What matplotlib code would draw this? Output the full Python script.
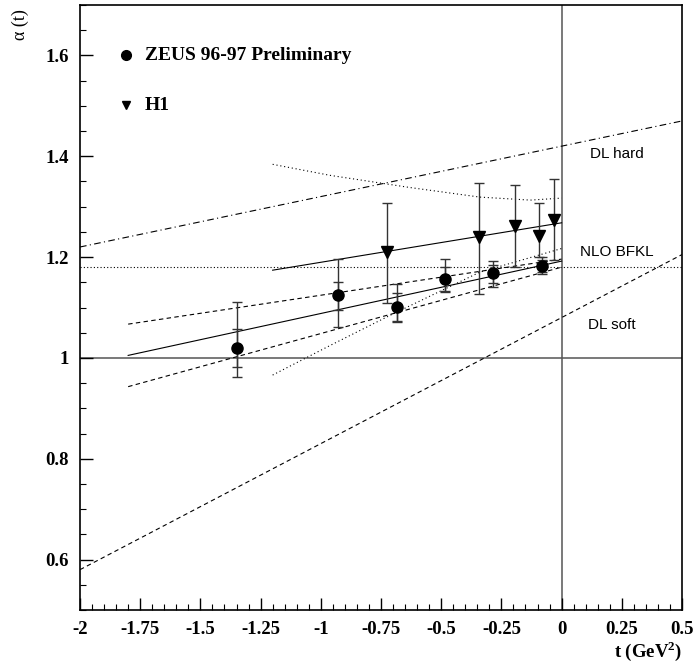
import matplotlib
matplotlib.use("Agg")
import matplotlib.pyplot as plt
from matplotlib.ticker import MultipleLocator, FixedFormatter, FixedLocator

# ZEUS 96-97 preliminary points (inner = stat, outer = total)
zeus_t = [-1.35, -0.93, -0.685, -0.484, -0.284, -0.083]
zeus_a = [1.020, 1.125, 1.101, 1.156, 1.168, 1.183]
zeus_stat_hi = [1.058, 1.151, 1.128, 1.180, 1.184, 1.194]
zeus_stat_lo = [0.982, 1.096, 1.073, 1.132, 1.149, 1.171]
zeus_tot_hi = [1.110, 1.196, 1.147, 1.197, 1.193, 1.201]
zeus_tot_lo = [0.963, 1.062, 1.071, 1.130, 1.141, 1.166]

# H1 points
h1_t = [-0.724, -0.343, -0.194, -0.093, -0.032]
h1_a = [1.211, 1.240, 1.261, 1.242, 1.273]
h1_hi = [1.308, 1.346, 1.343, 1.308, 1.354]
h1_lo = [1.108, 1.127, 1.181, 1.200, 1.194]

# model / fit lines
dl_hard_t = [-2.0, 0.5]
dl_hard_a = [1.22, 1.47]
dl_soft_t = [-2.0, 0.5]
dl_soft_a = [0.58, 1.205]
bfkl_t = [-2.0, 0.5]
bfkl_a = [1.18, 1.18]

zeus_fit_t = [-1.8, 0.0]
zeus_fit_a = [1.005, 1.192]
zeus_band_hi = [1.067, 1.196]
zeus_band_lo = [0.943, 1.180]

h1_fit_t = [-1.2, 0.0]
h1_fit_a = [1.174, 1.268]
h1_band_hi_t = [-1.2, -0.96, -0.63, -0.34, -0.13, 0.0]
h1_band_hi_a = [1.384, 1.362, 1.338, 1.319, 1.313, 1.317]
h1_band_lo_t = [-1.2, -0.96, -0.71, -0.34, 0.0]
h1_band_lo_a = [0.966, 1.025, 1.085, 1.170, 1.217]

xticks = [-2, -1.75, -1.5, -1.25, -1, -0.75, -0.5, -0.25, 0, 0.25, 0.5]
xlabels = ["-2", "-1.75", "-1.5", "-1.25", "-1", "-0.75", "-0.5", "-0.25", "0", "0.25", "0.5"]
yticks = [0.6, 0.8, 1.0, 1.2, 1.4, 1.6]
ylabels = ["0.6", "0.8", "1", "1.2", "1.4", "1.6"]

serif = "Liberation Serif"
sans = "Liberation Sans"
plt.rcParams["mathtext.fontset"] = "custom"
plt.rcParams["mathtext.bf"] = "Liberation Serif:bold"
plt.rcParams["mathtext.rm"] = "Liberation Serif"

fig = plt.figure(figsize=(6.95, 6.69), dpi=100)
ax = fig.add_axes([80 / 695, 59 / 669, 602 / 695, 605 / 669])
ax.set_xlim(-2, 0.5)
ax.set_ylim(0.5, 1.7)

lw = 0.8
ax.axhline(1.0, color="#555555", lw=1.1, zorder=1)
ax.axvline(0.0, color="#555555", lw=1.1, zorder=1)

ax.plot(dl_hard_t, dl_hard_a, color="black", lw=lw, dashes=(6, 3, 1, 3))
ax.plot(dl_soft_t, dl_soft_a, color="black", lw=lw, dashes=(4, 3))
ax.plot(bfkl_t, bfkl_a, color="black", lw=lw, dashes=(1, 2))

ax.plot(zeus_fit_t, zeus_fit_a, color="black", lw=lw)
ax.plot(zeus_fit_t, zeus_band_hi, color="black", lw=lw, dashes=(4, 3))
ax.plot(zeus_fit_t, zeus_band_lo, color="black", lw=lw, dashes=(4, 3))

ax.plot(h1_fit_t, h1_fit_a, color="black", lw=lw)
ax.plot(h1_band_hi_t, h1_band_hi_a, color="black", lw=lw, dashes=(1, 2.5))
ax.plot(h1_band_lo_t, h1_band_lo_a, color="black", lw=lw, dashes=(1, 2.5))

# error bars
tot_err = [[a - l for a, l in zip(zeus_a, zeus_tot_lo)], [h - a for a, h in zip(zeus_a, zeus_tot_hi)]]
stat_err = [[a - l for a, l in zip(zeus_a, zeus_stat_lo)], [h - a for a, h in zip(zeus_a, zeus_stat_hi)]]
h1_err = [[a - l for a, l in zip(h1_a, h1_lo)], [h - a for a, h in zip(h1_a, h1_hi)]]

ekw = dict(fmt="none", ecolor="#333333", elinewidth=1.0, capsize=3.8, capthick=1.0)
ax.errorbar(zeus_t, zeus_a, yerr=tot_err, **ekw)
ax.errorbar(zeus_t, zeus_a, yerr=stat_err, **ekw)
ax.errorbar(h1_t, h1_a, yerr=h1_err, **ekw)
ax.plot(zeus_t, zeus_a, "o", color="black", ms=8, zorder=5)
ax.plot(h1_t, h1_a, "v", color="black", ms=8, zorder=5)

# legend drawn by hand
ax.plot([-1.81], [1.6], "o", color="black", ms=7)
ax.text(-1.73, 1.6, "ZEUS 96-97 Preliminary", family=serif, weight="bold", fontsize=14, va="center")
ax.plot([-1.81], [1.501], "v", color="black", ms=6)
ax.text(-1.73, 1.501, "H1", family=serif, weight="bold", fontsize=14, va="center")

# labels on the lines
ax.text(0.23, 1.405, "DL hard", family=sans, fontsize=11, ha="center", va="center")
ax.text(0.23, 1.21, "NLO BFKL", family=sans, fontsize=11, ha="center", va="center")
ax.text(0.21, 1.066, "DL soft", family=sans, fontsize=11, ha="center", va="center")

for s in ax.spines.values():
    s.set_linewidth(1.2)

ax.xaxis.set_major_locator(FixedLocator(xticks))
ax.xaxis.set_major_formatter(FixedFormatter(xlabels))
ax.xaxis.set_minor_locator(MultipleLocator(0.05))
ax.yaxis.set_major_locator(FixedLocator(yticks))
ax.yaxis.set_major_formatter(FixedFormatter(ylabels))
ax.yaxis.set_minor_locator(MultipleLocator(0.05))
ax.tick_params(which="both", direction="in", top=False, right=False)
ax.tick_params(which="major", length=9, width=1.0, pad=8)
ax.tick_params(which="minor", length=4.5, width=0.8)
for lab in ax.get_xticklabels() + ax.get_yticklabels():
    lab.set_family(serif)
    lab.set_weight("bold")
    lab.set_fontsize(13.5)

fig.text(682 / 695, 18 / 669, "t (GeV$^{\\mathbf{2}}$)", family=serif, weight="bold", fontsize=13.5,
         ha="right", va="center")
fig.text(20 / 695, 644 / 669, "α (t)", family=serif, fontsize=13, rotation=90, ha="center", va="center")

fig.savefig("out.png", dpi=100)
